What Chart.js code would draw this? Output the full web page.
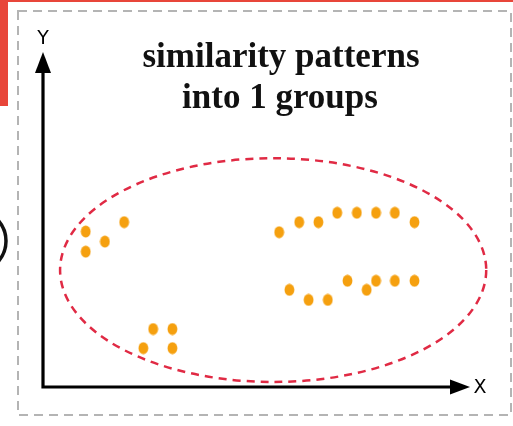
<!DOCTYPE html>
<html>
<head>
<meta charset="utf-8">
<script src="https://cdn.jsdelivr.net/npm/chart.js@4.4.1/dist/chart.umd.min.js"></script>
<style>
  html, body { margin: 0; padding: 0; background: #fff; overflow: hidden; }
  #groups { display: block; }
</style>
</head>
<body>
<canvas id="groups" width="513" height="426"></canvas>
<script>
// sample points, by cluster (x, y in plot units 0..10)
const leftX = [1.00, 1.00, 1.45, 1.90];
const leftY = [4.64, 4.04, 4.34, 4.92];
const lowX = [2.58, 3.03, 2.35, 3.03];
const lowY = [1.73, 1.73, 1.16, 1.16];
const upperRowX = [5.53, 6.00, 6.45, 6.89, 7.35, 7.80, 8.24, 8.70];
const upperRowY = [4.62, 4.92, 4.92, 5.20, 5.20, 5.20, 5.20, 4.92];
const lowerRowX = [5.77, 6.22, 6.67, 7.13, 7.58, 7.80, 8.24, 8.70];
const lowerRowY = [2.90, 2.60, 2.60, 3.17, 2.90, 3.17, 3.17, 3.17];

// the single group boundary: center and radii
const groupCenter = [5.39, 3.49];
const groupRadius = [4.99, 3.34];

const titleLines = ["similarity patterns", "into 1 groups"];
const axisNames = ["X", "Y"];

const ORANGE = "#f5a00f";

function pairs(xs, ys) {
  return xs.map((x, i) => ({ x: x, y: ys[i] }));
}

// small oval marker used as point style
function ovalDot() {
  const c = document.createElement("canvas");
  c.width = 11;
  c.height = 13;
  const g = c.getContext("2d");
  g.fillStyle = ORANGE;
  g.beginPath();
  g.ellipse(5.5, 6.5, 4.9, 6, 0, 0, Math.PI * 2);
  g.fill();
  return c;
}

const decor = {
  id: "decor",
  beforeDraw(chart) {
    const ctx = chart.ctx;
    ctx.save();
    // red strip and side bar
    ctx.fillStyle = "#e8463a";
    ctx.fillRect(0, 0, 513, 2);
    ctx.fillRect(0, 0, 8, 106);
    // dashed frame
    ctx.strokeStyle = "#b4b4b4";
    ctx.lineWidth = 2;
    ctx.setLineDash([9, 6]);
    ctx.strokeRect(18, 11, 493, 404);
    ctx.setLineDash([]);
    // piece of a ring peeking in from the left
    ctx.strokeStyle = "#111";
    ctx.lineWidth = 3.5;
    ctx.beginPath();
    ctx.arc(-25, 241, 31, -0.75, 0.75);
    ctx.stroke();
    ctx.restore();
  },
  beforeDatasetsDraw(chart) {
    const ctx = chart.ctx;
    const xs = chart.scales.x, ys = chart.scales.y;
    ctx.save();
    // dashed group ellipse
    const cx = xs.getPixelForValue(groupCenter[0]);
    const cy = ys.getPixelForValue(groupCenter[1]);
    const rx = xs.getPixelForValue(groupCenter[0] + groupRadius[0]) - cx;
    const ry = cy - ys.getPixelForValue(groupCenter[1] + groupRadius[1]);
    ctx.strokeStyle = "#e02a44";
    ctx.lineWidth = 2.5;
    ctx.setLineDash([8, 6]);
    ctx.beginPath();
    ctx.ellipse(cx, cy, rx, ry, 0, 0, Math.PI * 2);
    ctx.stroke();
    ctx.setLineDash([]);

    // axes with arrow heads
    const ox = xs.getPixelForValue(0), oy = ys.getPixelForValue(0);
    const xEnd = xs.getPixelForValue(10), yEnd = ys.getPixelForValue(10);
    ctx.strokeStyle = "#000";
    ctx.fillStyle = "#000";
    ctx.lineWidth = 3.2;
    ctx.beginPath();
    ctx.moveTo(ox, oy + 1.6);
    ctx.lineTo(ox, yEnd + 18);
    ctx.moveTo(ox - 1.6, oy);
    ctx.lineTo(xEnd - 18, oy);
    ctx.stroke();
    ctx.beginPath();
    ctx.moveTo(ox, yEnd);
    ctx.lineTo(ox - 8, yEnd + 21);
    ctx.lineTo(ox + 8, yEnd + 21);
    ctx.closePath();
    ctx.fill();
    ctx.beginPath();
    ctx.moveTo(xEnd, oy);
    ctx.lineTo(xEnd - 20, oy - 7.5);
    ctx.lineTo(xEnd - 20, oy + 7.5);
    ctx.closePath();
    ctx.fill();

    // axis names
    ctx.font = "19px 'DejaVu Sans'";
    ctx.textAlign = "center";
    ctx.textBaseline = "middle";
    ctx.fillText(axisNames[0], xEnd + 10, oy + 1);
    ctx.fillText(axisNames[1], ox, yEnd - 13);
    ctx.restore();
  },
  afterDraw(chart) {
    const ctx = chart.ctx;
    ctx.save();
    ctx.fillStyle = "#111";
    ctx.font = "bold 35px 'Liberation Serif'";
    ctx.textAlign = "center";
    ctx.textBaseline = "alphabetic";
    ctx.fillText(titleLines[0], 281, 67);
    ctx.fillText(titleLines[1], 280, 108);
    ctx.restore();
  }
};

const dot = ovalDot();
const groups = [
  pairs(leftX, leftY),
  pairs(lowX, lowY),
  pairs(upperRowX, upperRowY),
  pairs(lowerRowX, lowerRowY)
];

new Chart(document.getElementById("groups").getContext("2d"), {
  type: "scatter",
  data: {
    datasets: groups.map((pts) => ({
      data: pts,
      pointStyle: dot,
      backgroundColor: ORANGE,
      borderColor: ORANGE
    }))
  },
  options: {
    responsive: false,
    animation: false,
    events: [],
    layout: { padding: { left: 43, right: 43, top: 52, bottom: 39 } },
    scales: {
      x: { type: "linear", min: 0, max: 10, display: false },
      y: { type: "linear", min: 0, max: 10, display: false }
    },
    plugins: {
      legend: { display: false },
      tooltip: { enabled: false }
    }
  },
  plugins: [decor]
});
</script>
</body>
</html>
